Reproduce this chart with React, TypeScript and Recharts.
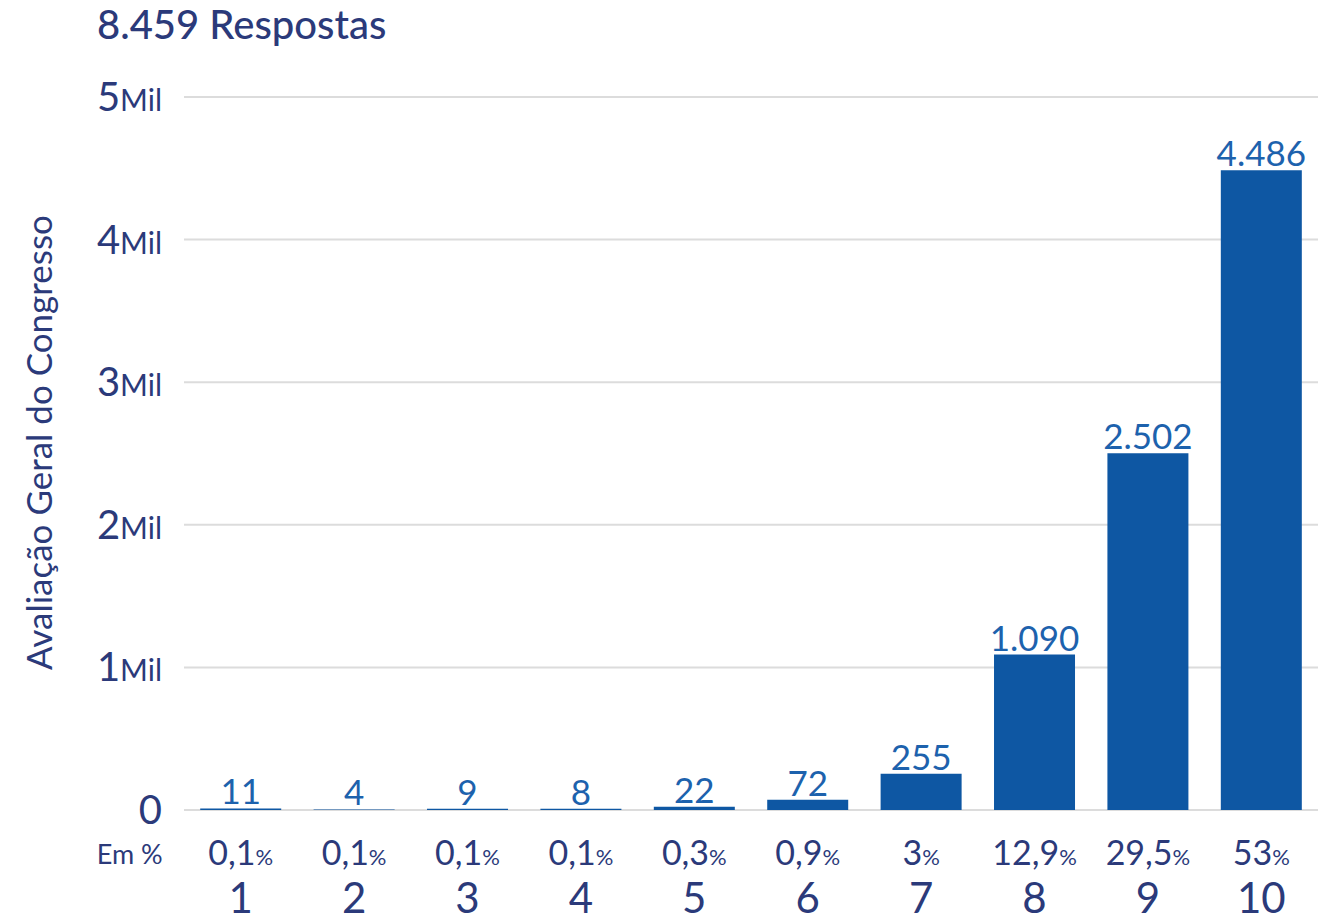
import { BarChart, Bar, XAxis, YAxis, CartesianGrid, LabelList } from "recharts";

const notas = ["1", "2", "3", "4", "5", "6", "7", "8", "9", "10"];
const respostas = [11, 4, 9, 8, 22, 72, 255, 1090, 2502, 4486];
const percentuais = ["0,1", "0,1", "0,1", "0,1", "0,3", "0,9", "3", "12,9", "29,5", "53"];
const yTicks = [0, 1000, 2000, 3000, 4000, 5000];

const NAVY = "#2b3a7a";
const BAR = "#0e57a3";
const LABEL = "#1d62ad";

const data = notas.map((n, i) => ({
  nota: n,
  respostas: respostas[i],
  pct: percentuais[i],
}));

const fmt = (v: number) => v.toLocaleString("pt-BR");

function YTick({ x, y, payload }: any) {
  const v = payload.value;
  if (v === 0) {
    return (
      <text x={x} y={y} dy={14} textAnchor="end" fill={NAVY} fontSize={40}>
        0
      </text>
    );
  }
  return (
    <text x={x} y={y} dy={14} textAnchor="end" fill={NAVY}>
      <tspan fontSize={40}>{v / 1000}</tspan>
      <tspan fontSize={30}>Mil</tspan>
    </text>
  );
}

function XTick({ x, y, payload, index }: any) {
  const pct = percentuais[index];
  return (
    <g>
      {index === 0 && (
        <text x={x - 111} y={y + 46} textAnchor="middle" fill={NAVY} fontSize={27}>
          Em %
        </text>
      )}
      <text x={x} y={y + 47} textAnchor="middle" fill={NAVY}>
        <tspan fontSize={34}>{pct}</tspan>
        <tspan fontSize={22}>%</tspan>
      </text>
      <text x={x} y={y + 95} textAnchor="middle" fill={NAVY} fontSize={42}>
        {payload.value}
      </text>
    </g>
  );
}

function YLabel({ viewBox }: any) {
  const cy = viewBox.y + viewBox.height / 2 - 11;
  return (
    <text
      x={38}
      y={cy}
      transform={`rotate(-90, 38, ${cy})`}
      textAnchor="middle"
      dominantBaseline="central"
      fill={NAVY}
      fontSize={35}
    >
      Avaliação Geral do Congresso
    </text>
  );
}

export default function App() {
  return (
    <div
      style={{
        position: "absolute",
        left: 0,
        top: 0,
        width: 1329,
        height: 921,
        background: "#fff",
        fontFamily: "Lato, 'Noto Sans', sans-serif",
      }}
    >
      <div
        style={{
          position: "absolute",
          left: 97,
          top: 0,
          fontSize: 40,
          color: NAVY,
          fontWeight: 500,
        }}
      >
        8.459 Respostas
      </div>

      <BarChart
        width={1329}
        height={921}
        data={data}
        margin={{ top: 97, right: 11, bottom: 0, left: 0 }}
        barCategoryGap="14.3%"
        style={{ fontFamily: "Lato, 'Noto Sans', sans-serif" }}
      >
        <CartesianGrid vertical={false} stroke="#dcdcdc" strokeWidth={2} />

        <XAxis
          dataKey="nota"
          height={111}
          axisLine={false}
          tickLine={false}
          interval={0}
          tick={<XTick />}
        />

        <YAxis
          width={184}
          domain={[0, 5000]}
          ticks={yTicks}
          axisLine={false}
          tickLine={false}
          tickMargin={16}
          tick={<YTick />}
          label={<YLabel />}
        />

        <Bar dataKey="respostas" fill={BAR} isAnimationActive={false}>
          <LabelList
            dataKey="respostas"
            position="top"
            offset={4}
            formatter={(v: any) => fmt(Number(v))}
            style={{ fill: LABEL, fontSize: 35 }}
          />
        </Bar>
      </BarChart>
    </div>
  );
}
